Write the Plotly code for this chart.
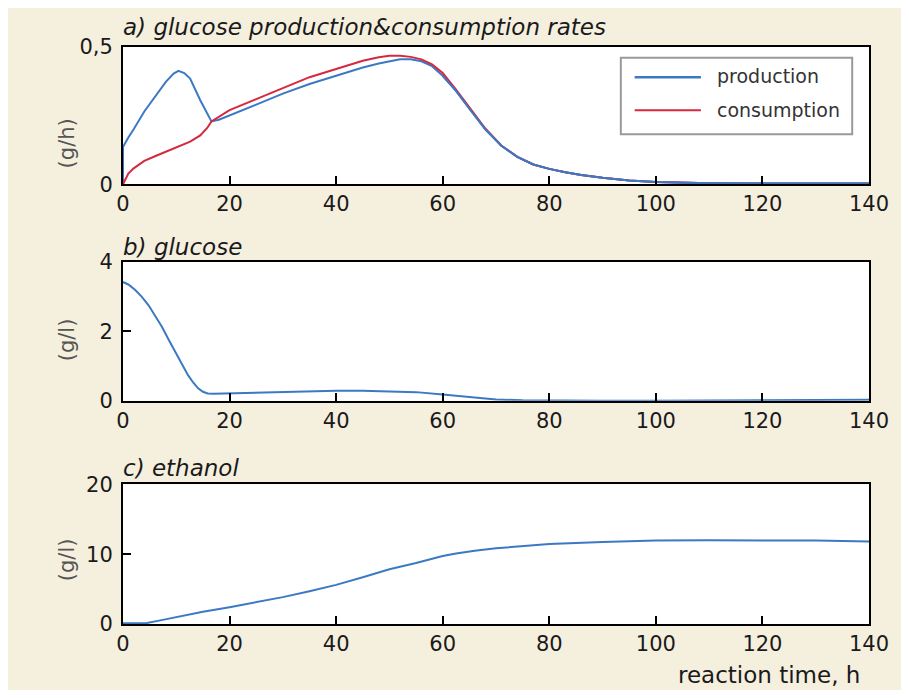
import plotly.graph_objects as go

# ---------------- data ----------------
t_rate = [0, 0, 1, 2, 4, 6, 8, 9.5, 10.4, 11.5, 12.6, 14.5, 15.8, 16.6, 18, 20, 25, 30, 35, 40, 45,
          48, 50, 52, 54, 56, 58, 60, 62.5, 65, 68, 71, 74, 77, 80, 83, 86, 90, 95, 100, 110, 120, 130, 140]
production = [0.0, 0.136, 0.17, 0.2, 0.265, 0.32, 0.372, 0.403, 0.413, 0.405, 0.385, 0.306, 0.26, 0.229, 0.235,
              0.25, 0.29, 0.33, 0.365, 0.395, 0.425, 0.44, 0.448, 0.455, 0.455, 0.448, 0.43, 0.395, 0.34,
              0.275, 0.2, 0.14, 0.1, 0.072, 0.056, 0.044, 0.034, 0.024, 0.014, 0.008, 0.004, 0.003, 0.003, 0.003]
consumption = [0.0, 0.0, 0.039, 0.058, 0.085, 0.102, 0.118, 0.13, 0.137, 0.145, 0.155, 0.178, 0.205, 0.229, 0.245,
               0.27, 0.31, 0.35, 0.39, 0.42, 0.45, 0.463, 0.468, 0.468, 0.464, 0.455, 0.437, 0.405, 0.345,
               0.28, 0.203, 0.141, 0.1, 0.072, 0.056, 0.044, 0.034, 0.024, 0.014, 0.008, 0.004, 0.003, 0.003, 0.003]

t_glc = [0, 1, 2.3, 3.5, 4.8, 6, 7.3, 8.5, 9.8, 11, 12.2, 13.2, 14.1, 15, 15.9, 17, 20, 25, 30, 35, 40,
         45, 50, 55, 60, 65, 70, 75, 80, 90, 100, 110, 120, 130, 140]
glucose = [3.42, 3.35, 3.19, 3.0, 2.75, 2.46, 2.13, 1.78, 1.41, 1.07, 0.74, 0.52, 0.36, 0.26, 0.21, 0.2,
           0.21, 0.24, 0.26, 0.28, 0.29, 0.29, 0.28, 0.25, 0.18, 0.1, 0.04, 0.015, 0.005, 0.003, 0.003,
           0.005, 0.008, 0.015, 0.03]

t_eth = [0, 2, 4.5, 7, 10.9, 15, 20, 25, 30, 35, 40, 45, 50, 55, 60, 62.5, 66, 70, 75, 80, 90, 100,
         110, 120, 130, 140]
ethanol = [0.12, 0.12, 0.15, 0.52, 1.15, 1.75, 2.4, 3.1, 3.85, 4.7, 5.6, 6.7, 7.85, 8.75, 9.75, 10.1,
           10.5, 10.85, 11.2, 11.45, 11.75, 11.95, 12.0, 12.0, 11.95, 11.8]

x_ticks = [0, 20, 40, 60, 80, 100, 120, 140]
ya_ticks, ya_text = [0, 0.5], ["0", "0,5"]
yb_ticks = [0, 2, 4]
yc_ticks = [0, 10, 20]

# ---------------- style ----------------
BLUE = "#3b79c4"
RED = "#d6283e"
BEIGE = "#f5efde"
FONT = "DejaVu Sans"

OFF = 8  # page body margin
W, H = 893, 682
ML = 122.5 - OFF
MR = W - (877 - OFF)
MT = 46.7 - OFF
MB = H - (624 - OFF)
PW, PH = W - ML - MR, H - MT - MB


def px_x(sx):
    return (sx - OFF - ML) / PW


def px_y(sy):
    return (H - MB - (sy - OFF)) / PH


fig = go.Figure()
fig.add_trace(go.Scatter(x=t_rate, y=production, mode="lines", name="production",
                         line=dict(color=BLUE, width=2), xaxis="x", yaxis="y"))
fig.add_trace(go.Scatter(x=t_rate, y=consumption, mode="lines", name="consumption",
                         line=dict(color=RED, width=2), xaxis="x", yaxis="y"))
# production drawn again on top where both curves coincide
fig.add_trace(go.Scatter(x=t_rate[27:], y=production[27:], mode="lines", showlegend=False,
                         line=dict(color=BLUE, width=2), xaxis="x", yaxis="y", hoverinfo="skip"))
fig.add_trace(go.Scatter(x=t_glc, y=glucose, mode="lines", name="glucose",
                         line=dict(color=BLUE, width=2), xaxis="x2", yaxis="y2"))
fig.add_trace(go.Scatter(x=t_eth, y=ethanol, mode="lines", name="ethanol",
                         line=dict(color=BLUE, width=2), xaxis="x3", yaxis="y3"))

tickfont = dict(family=FONT, size=21, color="#1a1a1a")
common_x = dict(range=[0, 140], tickvals=x_ticks, ticks="inside", ticklen=8, tickwidth=2,
                tickcolor="black", showline=True, linecolor="black", linewidth=2, mirror=True,
                showgrid=False, zeroline=False, tickfont=tickfont, domain=[0, 1])
common_y = dict(ticks="inside", ticklen=8, tickwidth=2, tickcolor="black", showline=True,
                linecolor="black", linewidth=2, mirror=True, showgrid=False, zeroline=False,
                tickfont=tickfont, ticklabelstandoff=4)

dom_a = [px_y(184), 1.0]
dom_b = [px_y(400.7), px_y(261.7)]
dom_c = [0.0, px_y(484.3)]

fig.update_layout(
    width=W, height=H,
    margin=dict(l=ML, r=MR, t=MT, b=MB),
    paper_bgcolor=BEIGE, plot_bgcolor="white",
    showlegend=False,
    xaxis=dict(common_x, anchor="y"),
    xaxis2=dict(common_x, anchor="y2"),
    xaxis3=dict(common_x, anchor="y3"),
    yaxis=dict(common_y, range=[0, 0.5], tickvals=ya_ticks, ticktext=ya_text, domain=dom_a, anchor="x"),
    yaxis2=dict(common_y, range=[0, 4], tickvals=yb_ticks, domain=dom_b, anchor="x2"),
    yaxis3=dict(common_y, range=[0, 20], tickvals=yc_ticks, domain=dom_c, anchor="x3"),
)

shapes = []
# legend box
shapes.append(dict(type="rect", xref="paper", yref="paper", x0=px_x(626), x1=px_x(860),
                   y0=px_y(134), y1=px_y(57.5), fillcolor="white",
                   line=dict(color="#9a9a9a", width=2), layer="above"))
shapes.append(dict(type="line", xref="paper", yref="paper", x0=px_x(640), x1=px_x(707),
                   y0=px_y(77), y1=px_y(77), line=dict(color=BLUE, width=2.5), layer="above"))
shapes.append(dict(type="line", xref="paper", yref="paper", x0=px_x(640), x1=px_x(707),
                   y0=px_y(110), y1=px_y(110), line=dict(color=RED, width=2), layer="above"))
fig.update_layout(shapes=shapes)

ann = []


def text(s, x, y, size, xanchor="left", angle=0, color="#1a1a1a", italic=False):
    ann.append(dict(text=s, xref="paper", yref="paper", x=px_x(x), y=px_y(y), xanchor=xanchor,
                    yanchor="middle", showarrow=False, textangle=angle,
                    font=dict(family=FONT, size=size, color=color,
                              style="italic" if italic else "normal")))


text("a) glucose production&consumption rates", 120, 27, 23, italic=True)
text("b) glucose", 120, 247, 23, italic=True)
text("c) ethanol", 120, 468, 23, italic=True)
text("(g/h)", 66, 143, 21, xanchor="center", angle=-90, color="#555555")
text("(g/l)", 66, 340, 21, xanchor="center", angle=-90, color="#555555")
text("(g/l)", 66, 560, 21, xanchor="center", angle=-90, color="#555555")
text("production", 721, 76, 19, color="#333333")
text("consumption", 721, 110, 19, color="#333333")
text("reaction time, h", 870, 675, 23, xanchor="right")
fig.update_layout(annotations=ann)

fig.write_html("out.html")
